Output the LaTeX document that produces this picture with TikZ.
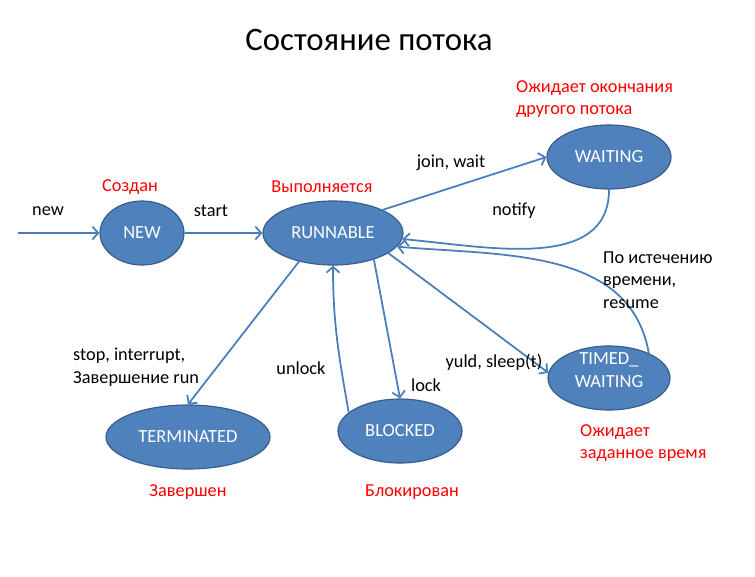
\documentclass[tikz,border=0pt]{standalone}
\usepackage{fontspec}
\setmainfont{Carlito}
\usetikzlibrary{positioning, arrows.meta, shapes.geometric}
\definecolor{statefill}{HTML}{4F81BD}
\definecolor{stateline}{HTML}{385D8A}
\definecolor{arrowblue}{HTML}{4A7EBB}
\definecolor{notered}{HTML}{FF0000}

\tikzset{
  state/.style={ellipse, fill=statefill, draw=stateline, line width=1pt,
    text=white, inner sep=0pt, minimum height=1.92cm, align=center,
    font=\fontsize{15.8}{19}\selectfont},
  trans/.style={draw=arrowblue, line width=1.5pt,
    -{Straight Barb[length=5pt, width=11pt]}},
  lbl/.style={font=\fontsize{15.6}{19.2}\selectfont, align=left, inner sep=0pt},
  note/.style={lbl, text=notered},
}

\begin{document}
\begin{tikzpicture}[x=0.03cm, y=-0.03cm]
    \fill[white] (0,0) rectangle (755,576);
    \useasboundingbox (0,0) rectangle (755,576);

    \node[font=\fontsize{28}{32}\selectfont] (title) at (369,40) {Состояние потока};

    % states
    \node[state, minimum width=2.52cm] (new) at (142,233) {NEW};
    \node[state, minimum width=4.2cm] (run) at (333,233) {RUNNABLE};
    \node[state, minimum width=3.72cm] (wait) at (609,157) {WAITING};
    \node[state, minimum width=3.66cm,
          label={[text=white, align=center, yshift=0.24cm,
                  font=\fontsize{15.8}{19}\selectfont]center:{TIMED\_\\WAITING}}]
          (timed) at (609,378) {};
    \node[state, minimum width=4.92cm] (term) at (188,437) {TERMINATED};
    \node[state, minimum width=3.72cm] (blocked) at (400,431) {BLOCKED};

    % red notes
    \node[note] (newnote) at (130,187) {Создан};
    \node[note] (runnote) at (322,187) {Выполняется};
    \node[note, anchor=west] (waitnote) at (516,99) {Ожидает окончания\\другого потока};
    \node[note, anchor=west] (timednote) at (580,443) {Ожидает\\заданное время};
    \node[note] (termnote) at (188,492) {Завершен};
    \node[note] (blocknote) at (412,492) {Блокирован};

    % transitions
    \coordinate (entry) at (18,233);
    \draw[trans] (entry) -- (new.west);
    \draw[trans] (new.east) -- (run.west);
    \draw[trans] (run.25) -- (wait.west);
    \draw[trans] (wait.south) to[out=-90, in=-5] (run.-5);
    \draw[trans] (timed.32) to[out=100, in=-5] (run.-12);
    \draw[trans] (run.-20) -- (timed.175);
    \draw[trans] (run.-33) -- (blocked.north);
    \draw[trans] (blocked.160) to[out=100, in=-90] (run.south);
    \draw[trans] (run.-140) -- (term.north);

    % transition labels
    \node[lbl] (newlbl) at (48,211) {new};
    \node[lbl] (startlbl) at (211,211) {start};
    \node[lbl] (joinlbl) at (451,163) {join, wait};
    \node[lbl] (notifylbl) at (514,211) {notify};
    \node[lbl, anchor=west] (resumelbl) at (603,280) {По истечению\\времени,\\resume};
    \node[lbl, anchor=west] (stoplbl) at (73,367) {stop, interrupt,\\Завершение run};
    \node[lbl] (unlocklbl) at (301,368) {unlock};
    \node[lbl] (locklbl) at (426,385) {lock};
    \node[lbl] (sleeplbl) at (494,362) {yuld, sleep(t)};
\end{tikzpicture}
\end{document}
